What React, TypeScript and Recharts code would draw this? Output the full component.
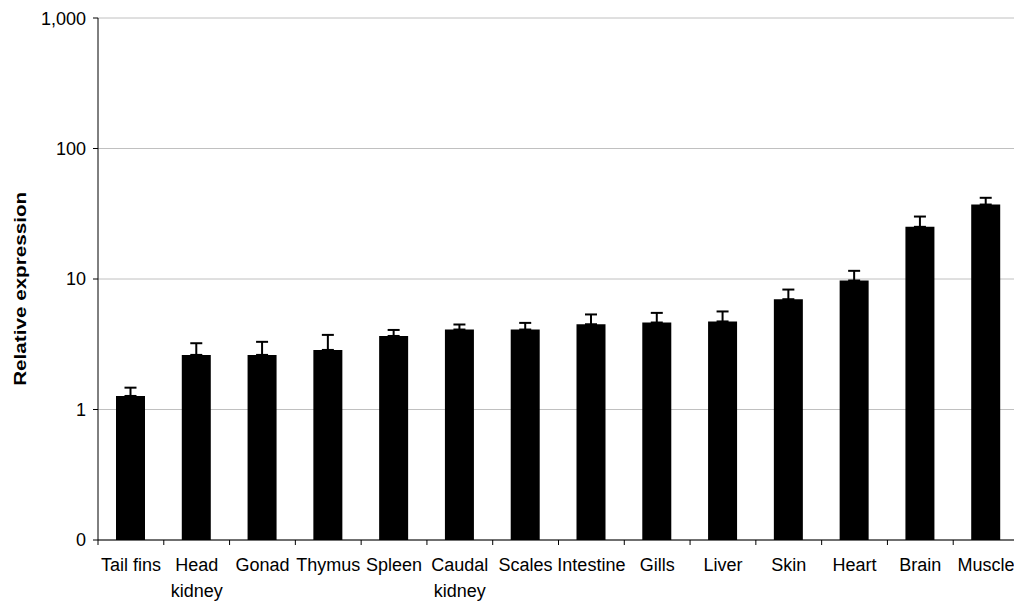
import { BarChart, Bar, XAxis, YAxis, CartesianGrid, ErrorBar, Label } from 'recharts';

// tissue names ('\n' = line break in the axis label)
const tissues = [
  'Tail fins', 'Head\nkidney', 'Gonad', 'Thymus', 'Spleen', 'Caudal\nkidney', 'Scales',
  'Intestine', 'Gills', 'Liver', 'Skin', 'Heart', 'Brain', 'Muscle',
];
// mean relative expression (bar height)
const expression = [1.27, 2.62, 2.62, 2.86, 3.66, 4.1, 4.1, 4.5, 4.64, 4.73, 7.0, 9.74, 25.1, 37.2];
// top of the error bar
const errorTop = [1.47, 3.22, 3.3, 3.73, 4.07, 4.48, 4.61, 5.35, 5.5, 5.64, 8.3, 11.55, 30.1, 41.9];
const yTicks = [0.1, 1, 10, 100, 1000];

const data = tissues.map((name, i) => ({
  name,
  value: expression[i],
  err: [0, +(errorTop[i] - expression[i]).toFixed(3)],
}));

const FONT = '"Liberation Sans", Arial, sans-serif';

const TissueTick = (props: any) => {
  const { x, y, payload, index } = props;
  const half = payload?.offset ?? 0;
  const lines = String(payload.value).split('\n');
  return (
    <g>
      <line x1={x - half} y1={y} x2={x - half} y2={y + 5} stroke="#000" strokeWidth={1} />
      {index === tissues.length - 1 && (
        <line x1={x + half} y1={y} x2={x + half} y2={y + 5} stroke="#000" strokeWidth={1} />
      )}
      {lines.map((l, i) => (
        <text
          key={i}
          x={x}
          y={y + 31 + i * 26}
          textAnchor="middle"
          fontFamily={FONT}
          fontSize={18}
          fill="#000"
        >
          {l}
        </text>
      ))}
    </g>
  );
};

const YTitle = () => {
  const cy = 288.8 - 8;
  return (
    <text
      x={12.5}
      y={cy}
      transform={`rotate(-90, 12.5, ${cy})`}
      textAnchor="middle"
      dominantBaseline="central"
      fontFamily={FONT}
      fontWeight="bold"
      fontSize={17}
      textLength={194}
      lengthAdjust="spacingAndGlyphs"
      fill="#000"
    >
      Relative expression
    </text>
  );
};

export default function App() {
  return (
    <div style={{ width: 1014, height: 597, background: '#fff' }}>
      <BarChart
        width={1014}
        height={597}
        data={data}
        margin={{ top: 10, right: 3, bottom: 5, left: 30 }}
      >
        <CartesianGrid vertical={false} stroke="#c0c0c0" />
        <XAxis
          dataKey="name"
          height={60}
          interval={0}
          tickSize={0}
          tickMargin={0}
          tickLine={false}
          axisLine={{ stroke: '#000' }}
          tick={<TissueTick />}
        />
        <YAxis
          scale="log"
          type="number"
          domain={[0.1, 1000]}
          allowDataOverflow
          ticks={yTicks}
          width={60}
          tickSize={5}
          tickMargin={7}
          axisLine={{ stroke: '#000' }}
          tickLine={{ stroke: '#000' }}
          tick={{ fontFamily: FONT, fontSize: 18, fill: '#000' }}
          tickFormatter={(v: number) => (v < 1 ? '0' : v.toLocaleString('en-US'))}
        >
          <Label content={<YTitle />} />
        </YAxis>
        <Bar dataKey="value" fill="#000" barSize={29} isAnimationActive={false}>
          <ErrorBar dataKey="err" width={6} stroke="#000" strokeWidth={2} direction="y" />
        </Bar>
      </BarChart>
    </div>
  );
}
